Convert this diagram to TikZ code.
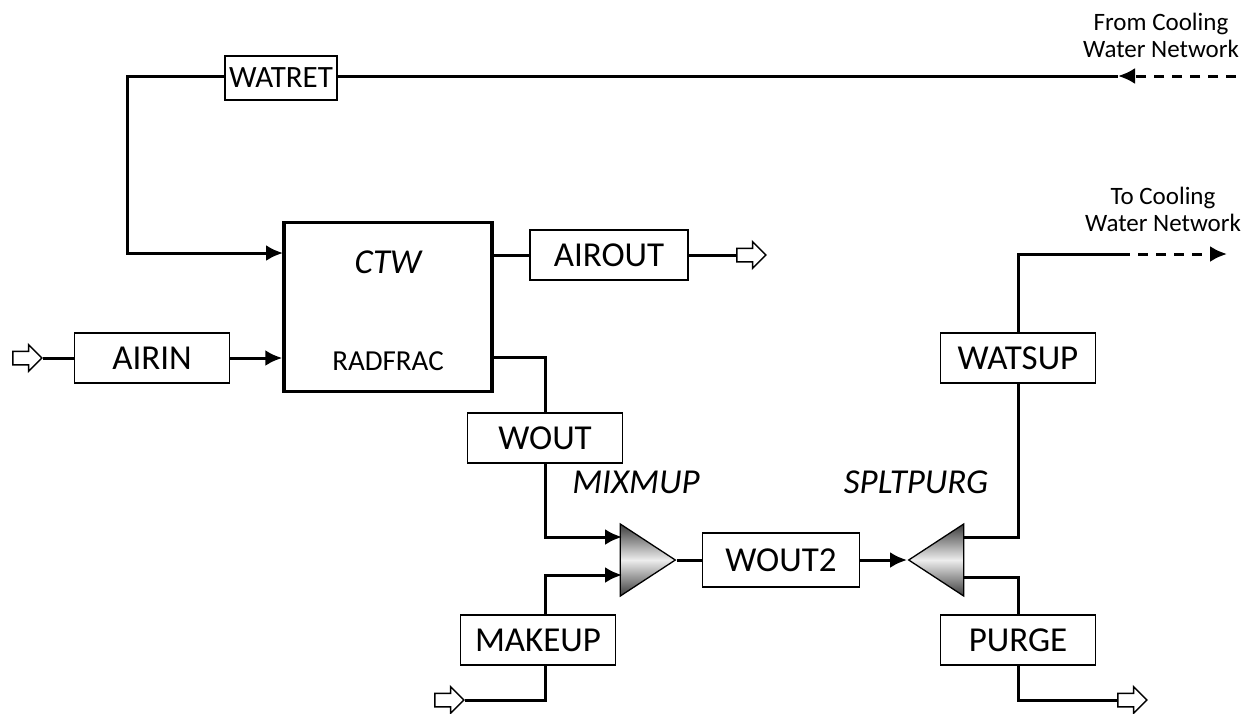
\documentclass[tikz,border=0pt]{standalone}
\usepackage{fontspec}
\setmainfont{Carlito}
\usetikzlibrary{arrows.meta,positioning,shapes.arrows,shapes.geometric,calc}
\definecolor{unitdark}{HTML}{3C3C3C}
\definecolor{unitlight}{HTML}{EDEDED}

\begin{document}
\begin{tikzpicture}[x=1pt,y=-1pt,>={Latex[length=17pt,width=16pt]},
 strm/.style={draw,line width=1.3pt,fill=white,minimum width=155pt,minimum height=50pt,inner sep=0pt,font=\fontsize{35}{40}\selectfont},
 blk/.style={draw,line width=3.5pt,minimum width=208pt,minimum height=169pt},
 fl/.style={line width=3pt},
 ext/.style={line width=3pt,dash pattern=on 10pt off 8pt},
 open/.style={single arrow,draw,line width=1.5pt,fill=white,minimum height=29pt,single arrow head extend=6.5pt,inner xsep=0pt,inner ysep=6pt},
 mixer/.style={isosceles triangle,isosceles triangle stretches,draw,line width=1.3pt,minimum width=72pt,minimum height=55pt,inner sep=0pt,anchor=apex,top color=unitdark,bottom color=unitdark,middle color=unitlight},
 tag/.style={font=\itshape\fontsize{35}{40}\selectfont},
 note/.style={font=\fontsize{25}{27}\selectfont,align=center}]
 \useasboundingbox (0,0) rectangle (1246,713);
 % column and units
 \node[blk] (ctw) at (388,307) {};
 \node[tag] at (388,262) {CTW};
 \node[font=\fontsize{29}{34}\selectfont] at (388,361) {RADFRAC};
 \node[mixer] (mix) at (677,560) {};
 \node[mixer,shape border rotate=180] (splt) at (907,560) {};
 \node[tag] at (636,482) {MIXMUP};
 \node[tag] at (916,482) {SPLTPURG};
 % streams
 \node[strm,minimum width=112pt,minimum height=44pt,font=\fontsize{31}{36}\selectfont] (watret) at (281,78) {WATRET};
 \node[strm] (airin) at (152,358) {AIRIN};
 \node[strm,minimum width=158pt] (airout) at (609,255) {AIROUT};
 \node[strm] (wout) at (545,438) {WOUT};
 \node[strm] (makeup) at (538,640) {MAKEUP};
 \node[strm,minimum width=157pt,minimum height=54pt] (wout2) at (781,560) {WOUT2};
 \node[strm] (watsup) at (1018,358) {WATSUP};
 \node[strm] (purge) at (1018,640) {PURGE};
 % feeds and products
 \node[open] (airfeed) at (24,358) {};
 \node[open] (airprod) at (748,255) {};
 \node[open] (mkfeed) at (446,700) {};
 \node[open] (pgprod) at (1129,700) {};
 \node[note] at (1161,35) {From Cooling\\Water Network};
 \node[note] at (1163,209) {To Cooling\\Water Network};
 \coordinate (cwin) at (1236,76);
 \coordinate (cwret) at (1118,76);
 \coordinate (bend) at (127,76);
 \coordinate (ctwtop) at (283,253);
 \coordinate (cwsplit) at (1120,254);
 \coordinate (cwout) at (1227,254);
 \coordinate (mixin1) at (622,537);
 \coordinate (mixin2) at (622,575);
 \coordinate (spltout1) at (963,537);
 \coordinate (spltout2) at (963,577);
 % connectors
 \draw[ext,->] (cwin) -- (cwret);
 \draw[fl] (cwret) -- (watret.east |- cwret);
 \draw[fl,->] (watret.west |- bend) -- (bend) |- (ctwtop);
 \draw[fl] (airfeed.east) -- (airin.west);
 \draw[fl,->] (airin.east) -- (ctw.west |- airin);
 \draw[fl] (ctw.east |- airout) -- (airout.west);
 \draw[fl] (airout.east) -- (airprod.west);
 \draw[fl] (ctw.east |- 0,357) -| (wout.north);
 \draw[fl,->] (wout.south) |- (mixin1);
 \draw[fl,->] ($(makeup.north)+(7,0)$) |- (mixin2);
 \draw[fl] (mkfeed.east) -| ($(makeup.south)+(7,0)$);
 \draw[fl] (mix.apex) -- (wout2.west);
 \draw[fl,->] (wout2.east) -- (splt.apex);
 \draw[fl] (spltout1) -| (watsup.south);
 \draw[fl] (watsup.north) |- (cwsplit);
 \draw[ext,->] (cwsplit) -- (cwout);
 \draw[fl] (spltout2) -| (purge.north);
 \draw[fl] (purge.south) |- (pgprod.west);
\end{tikzpicture}
\end{document}
